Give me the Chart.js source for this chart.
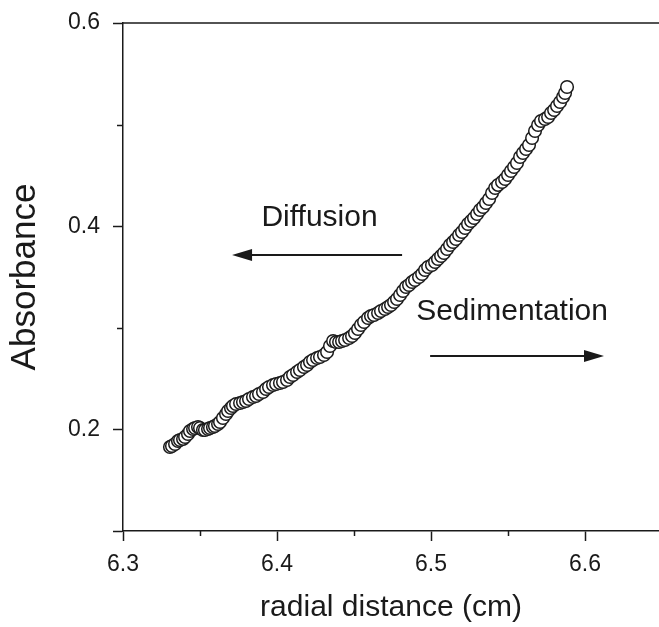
<!DOCTYPE html>
<html>
<head>
<meta charset="utf-8">
<script src="https://cdn.jsdelivr.net/npm/chart.js@4/dist/chart.umd.min.js"></script>
<style>
  html, body { margin: 0; padding: 0; background: #fff; }
  #wrap { width: 659px; height: 627px; }
</style>
</head>
<body>
<div id="wrap"><canvas id="chart" width="659" height="627"></canvas></div>
<script>
// radial distance (cm)
var radius = [
  6.3305, 6.3318, 6.3338, 6.3357, 6.3370, 6.3390, 6.3403, 6.3422, 6.3435, 6.3455,
  6.3468, 6.3487, 6.3500, 6.3519, 6.3532, 6.3552, 6.3565, 6.3584, 6.3597, 6.3617,
  6.3630, 6.3649, 6.3669, 6.3682, 6.3701, 6.3714, 6.3734, 6.3760, 6.3779, 6.3799,
  6.3818, 6.3844, 6.3864, 6.3883, 6.3909, 6.3929, 6.3948, 6.3974, 6.3994, 6.4019,
  6.4039, 6.4065, 6.4084, 6.4104, 6.4130, 6.4149, 6.4175, 6.4195, 6.4214, 6.4234,
  6.4260, 6.4279, 6.4305, 6.4325, 6.4344, 6.4364, 6.4383, 6.4403, 6.4422, 6.4442,
  6.4468, 6.4487, 6.4506, 6.4526, 6.4545, 6.4565, 6.4591, 6.4610, 6.4630, 6.4656,
  6.4675, 6.4701, 6.4721, 6.4740, 6.4760, 6.4779, 6.4799, 6.4818, 6.4838, 6.4857,
  6.4877, 6.4896, 6.4922, 6.4942, 6.4961, 6.4981, 6.5006, 6.5026, 6.5045, 6.5065,
  6.5084, 6.5104, 6.5123, 6.5143, 6.5162, 6.5182, 6.5201, 6.5221, 6.5240, 6.5260,
  6.5279, 6.5299, 6.5318, 6.5338, 6.5357, 6.5377, 6.5396, 6.5416, 6.5435, 6.5461,
  6.5481, 6.5500, 6.5519, 6.5539, 6.5558, 6.5578, 6.5597, 6.5617, 6.5636, 6.5656,
  6.5675, 6.5695, 6.5714, 6.5740, 6.5760, 6.5779, 6.5799, 6.5818, 6.5838, 6.5857,
  6.5870, 6.5883
];
// absorbance
var absorb = [
  0.1827, 0.1837, 0.1856, 0.1886, 0.1896, 0.1906, 0.1925, 0.1955, 0.1984, 0.2004,
  0.2014, 0.2024, 0.2014, 0.1994, 0.1994, 0.2004, 0.2014, 0.2024, 0.2033, 0.2053,
  0.2073, 0.2112, 0.2152, 0.2181, 0.2211, 0.2230, 0.2250, 0.2260, 0.2270, 0.2280,
  0.2299, 0.2319, 0.2329, 0.2348, 0.2368, 0.2398, 0.2417, 0.2437, 0.2447, 0.2457,
  0.2467, 0.2486, 0.2516, 0.2535, 0.2565, 0.2585, 0.2614, 0.2634, 0.2663, 0.2683,
  0.2703, 0.2713, 0.2732, 0.2762, 0.2821, 0.2870, 0.2860, 0.2860, 0.2870, 0.2880,
  0.2900, 0.2919, 0.2949, 0.2988, 0.3028, 0.3057, 0.3096, 0.3116, 0.3126, 0.3146,
  0.3165, 0.3185, 0.3205, 0.3224, 0.3254, 0.3283, 0.3323, 0.3362, 0.3402, 0.3421,
  0.3451, 0.3470, 0.3500, 0.3530, 0.3569, 0.3598, 0.3618, 0.3648, 0.3677, 0.3707,
  0.3736, 0.3776, 0.3815, 0.3844, 0.3874, 0.3913, 0.3943, 0.3982, 0.4022, 0.4051,
  0.4081, 0.4120, 0.4159, 0.4189, 0.4228, 0.4268, 0.4327, 0.4376, 0.4406, 0.4435,
  0.4465, 0.4504, 0.4543, 0.4583, 0.4622, 0.4681, 0.4720, 0.4760, 0.4799, 0.4868,
  0.4937, 0.4996, 0.5035, 0.5055, 0.5075, 0.5114, 0.5144, 0.5183, 0.5222, 0.5272,
  0.5311, 0.5370
];

var xTicks = [6.3, 6.35, 6.4, 6.45, 6.5, 6.55, 6.6];
var xLabels = ["6.3", "", "6.4", "", "6.5", "", "6.6"];
var yTicks = [0.1, 0.2, 0.3, 0.4, 0.5, 0.6];
var yLabels = ["", "0.2", "", "0.4", "", "0.6"];
var minorX = [6.35, 6.45, 6.55];
var minorY = [0.3, 0.5];

// text annotations with arrows, in data units
var notes = [
  { text: "Diffusion", x: 6.4276, y: 0.408, from: 6.4812, to: 6.3708, ay: 0.3717 },
  { text: "Sedimentation", x: 6.5526, y: 0.3156, from: 6.4994, to: 6.6123, ay: 0.2722 }
];

var points = radius.map(function (r, i) { return { x: r, y: absorb[i] }; });

var FONT = "'Liberation Sans', Arial, Helvetica, sans-serif";
var INK = "#1a1a1a";

var frame = {
  id: "frame",
  afterDraw: function (chart) {
    var c = chart.ctx, a = chart.chartArea;
    var xs = chart.scales.x, ys = chart.scales.y;
    c.save();
    c.strokeStyle = INK;
    c.lineWidth = 1.5;
    // top border
    c.beginPath();
    c.moveTo(a.left, a.top);
    c.lineTo(a.right, a.top);
    c.stroke();
    // minor ticks
    minorX.forEach(function (v) {
      var px = Math.round(xs.getPixelForValue(v)) + 0.5;
      c.beginPath();
      c.moveTo(px, a.bottom);
      c.lineTo(px, a.bottom + 5);
      c.stroke();
    });
    minorY.forEach(function (v) {
      var py = Math.round(ys.getPixelForValue(v)) + 0.5;
      c.beginPath();
      c.moveTo(a.left, py);
      c.lineTo(a.left - 6, py);
      c.stroke();
    });
    // annotations
    c.fillStyle = INK;
    c.font = "30px " + FONT;
    c.textAlign = "center";
    c.textBaseline = "middle";
    notes.forEach(function (n) {
      c.fillText(n.text, xs.getPixelForValue(n.x), ys.getPixelForValue(n.y));
      var x0 = xs.getPixelForValue(n.from), x1 = xs.getPixelForValue(n.to);
      var y = ys.getPixelForValue(n.ay);
      var dir = x1 > x0 ? 1 : -1;
      c.lineWidth = 2;
      c.beginPath();
      c.moveTo(x0, y);
      c.lineTo(x1 - dir * 16, y);
      c.stroke();
      c.beginPath();
      c.moveTo(x1, y);
      c.lineTo(x1 - dir * 20, y - 6);
      c.lineTo(x1 - dir * 20, y + 6);
      c.closePath();
      c.fill();
    });
    c.restore();
  }
};

var ctx = document.getElementById("chart").getContext("2d");
var chart = new Chart(ctx, {
  type: "scatter",
  data: {
    datasets: [
      {
        data: points,
        pointRadius: 6.3,
        pointBorderWidth: 1.5,
        pointBorderColor: INK,
        pointBackgroundColor: "#ffffff",
        showLine: false
      }
    ]
  },
  options: {
    responsive: false,
    animation: false,
    events: [],
    layout: { autoPadding: false, padding: { top: 23, right: 0, left: 0, bottom: 0 } },
    plugins: { legend: { display: false }, tooltip: { enabled: false } },
    scales: {
      x: {
        type: "linear",
        min: 6.3,
        max: 6.648,
        afterBuildTicks: function (s) {
          s.ticks = xTicks.map(function (v) { return { value: v }; });
        },
        afterFit: function (s) {
          s.height = 96;
          s.paddingLeft = 0;
          s.paddingRight = 0;
        },
        ticks: {
          autoSkip: false,
          maxRotation: 0,
          padding: 10,
          color: INK,
          font: { family: FONT, size: 23 },
          callback: function (v, i) { return xLabels[i]; }
        },
        grid: {
          drawOnChartArea: false,
          tickLength: 10,
          tickWidth: 1.5,
          tickColor: function (c) { return xLabels[c.index] ? INK : "rgba(0,0,0,0)"; }
        },
        border: { display: true, color: INK, width: 1.5 },
        title: {
          display: true,
          text: "radial distance (cm)",
          color: INK,
          font: { family: FONT, size: 30 },
          padding: { top: 0, bottom: 1 }
        }
      },
      y: {
        type: "linear",
        min: 0.1,
        max: 0.6,
        afterBuildTicks: function (s) {
          s.ticks = yTicks.map(function (v) { return { value: v }; });
        },
        afterFit: function (s) {
          s.width = 123;
          s.paddingTop = 0;
          s.paddingBottom = 0;
        },
        ticks: {
          autoSkip: false,
          padding: 13,
          color: INK,
          font: { family: FONT, size: 23 },
          callback: function (v, i) { return yLabels[i]; }
        },
        grid: {
          drawOnChartArea: false,
          tickLength: 10,
          tickWidth: 1.5,
          tickColor: function (c) { return (yLabels[c.index] || c.index === 0) ? INK : "rgba(0,0,0,0)"; }
        },
        border: { display: true, color: INK, width: 1.5 },
        title: {
          display: true,
          text: "Absorbance",
          color: INK,
          font: { family: FONT, size: 35 },
          padding: { top: 4, bottom: 0 }
        }
      }
    }
  },
  plugins: [frame]
});
</script>
</body>
</html>
